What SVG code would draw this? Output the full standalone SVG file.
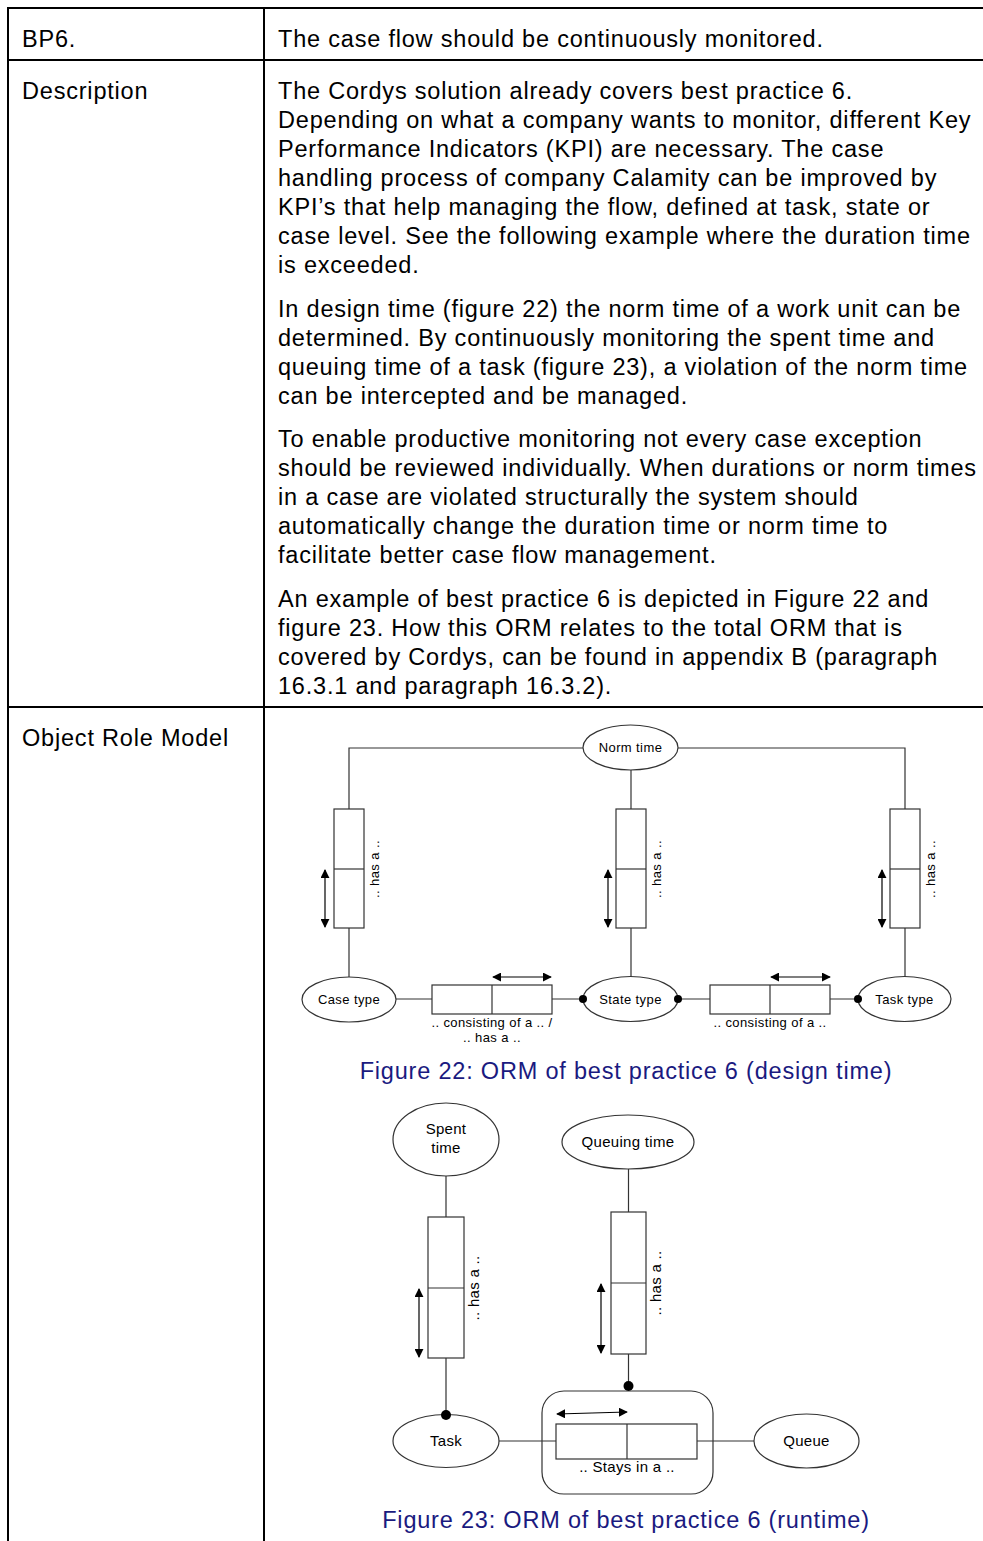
<svg xmlns="http://www.w3.org/2000/svg" width="983" height="1541" viewBox="0 0 983 1541">
<defs>
<marker id="ah" viewBox="0 0 10 10" refX="9" refY="5" markerWidth="9" markerHeight="9" markerUnits="userSpaceOnUse" orient="auto-start-reverse"><path d="M0,0 L10,5 L0,10 z" fill="#000"/></marker>
</defs>
<style>
.t{font-family:"Liberation Sans",Arial,sans-serif;font-size:23.5px;letter-spacing:0.8px;fill:#000}
.cap{font-family:"Liberation Sans",Arial,sans-serif;font-size:23.5px;letter-spacing:0.8px;fill:#1a1a80;text-anchor:middle}
.s{font-family:"Liberation Sans",Arial,sans-serif;font-size:13px;letter-spacing:0.4px;fill:#000;text-anchor:middle}
.m{font-family:"Liberation Sans",Arial,sans-serif;font-size:15px;letter-spacing:0.3px;fill:#000;text-anchor:middle}
.grid{stroke:#000;stroke-width:2;fill:none}
.ln{stroke:#333;stroke-width:1.2;fill:none}
.sh{stroke:#333;stroke-width:1.2;fill:#fff}
.ar{stroke:#000;stroke-width:1.2;fill:none;marker-start:url(#ah);marker-end:url(#ah)}
.dot{fill:#000}
</style>
<rect width="983" height="1541" fill="#fff"/>
<g id="table">
<path class="grid" d="M8,8 H983 M8,60 H983 M8,707 H983 M8,7 V1541 M264,7 V1541"/>
<text class="t" x="22" y="47">BP6.</text>
<text class="t" x="278" y="47">The case flow should be continuously monitored.</text>
<text class="t" x="22" y="99">Description</text>
<text class="t" x="278" y="99">The Cordys solution already covers best practice 6.</text>
<text class="t" x="278" y="128">Depending on what a company wants to monitor, different Key</text>
<text class="t" x="278" y="157">Performance Indicators (KPI) are necessary. The case</text>
<text class="t" x="278" y="186">handling process of company Calamity can be improved by</text>
<text class="t" x="278" y="215">KPI’s that help managing the flow, defined at task, state or</text>
<text class="t" x="278" y="244">case level. See the following example where the duration time</text>
<text class="t" x="278" y="273">is exceeded.</text>
<text class="t" x="278" y="317">In design time (figure 22) the norm time of a work unit can be</text>
<text class="t" x="278" y="346">determined. By continuously monitoring the spent time and</text>
<text class="t" x="278" y="375">queuing time of a task (figure 23), a violation of the norm time</text>
<text class="t" x="278" y="404">can be intercepted and be managed.</text>
<text class="t" x="278" y="447">To enable productive monitoring not every case exception</text>
<text class="t" x="278" y="476">should be reviewed individually. When durations or norm times</text>
<text class="t" x="278" y="505">in a case are violated structurally the system should</text>
<text class="t" x="278" y="534">automatically change the duration time or norm time to</text>
<text class="t" x="278" y="563">facilitate better case flow management.</text>
<text class="t" x="278" y="607">An example of best practice 6 is depicted in Figure 22 and</text>
<text class="t" x="278" y="636">figure 23. How this ORM relates to the total ORM that is</text>
<text class="t" x="278" y="665">covered by Cordys, can be found in appendix B (paragraph</text>
<text class="t" x="278" y="694">16.3.1 and paragraph 16.3.2).</text>
<text class="t" x="22" y="746">Object Role Model</text>
</g>
<g id="norm-time"><ellipse class="sh" cx="630.5" cy="747.5" rx="47.5" ry="22.5"/><text class="s" x="630.5" y="752">Norm time</text></g>
<g id="case-type"><ellipse class="sh" cx="349" cy="999.5" rx="47" ry="22.5"/><text class="s" x="349" y="1004">Case type</text></g>
<g id="state-type"><ellipse class="sh" cx="630.5" cy="999" rx="47.5" ry="22.5"/><text class="s" x="630.5" y="1003.5">State type</text></g>
<g id="task-type"><ellipse class="sh" cx="904.5" cy="999" rx="46.5" ry="22.5"/><text class="s" x="904.5" y="1003.5">Task type</text></g>
<g id="fact-case-norm"><rect class="sh" x="334" y="809" width="30" height="119"/><line class="ln" x1="334" y1="869" x2="364" y2="869"/><text class="s" transform="translate(379,869) rotate(-90)">.. has a ..</text></g>
<g id="fact-state-norm"><rect class="sh" x="616" y="809" width="30" height="119"/><line class="ln" x1="616" y1="869" x2="646" y2="869"/><text class="s" transform="translate(661,869) rotate(-90)">.. has a ..</text></g>
<g id="fact-task-norm"><rect class="sh" x="890" y="809" width="30" height="119"/><line class="ln" x1="890" y1="869" x2="920" y2="869"/><text class="s" transform="translate(935,869) rotate(-90)">.. has a ..</text></g>
<g id="fact-case-state"><rect class="sh" x="432" y="985" width="120" height="29"/><line class="ln" x1="492" y1="985" x2="492" y2="1014"/><text class="s" x="492" y="1027">.. consisting of  a .. /</text><text class="s" x="492" y="1042">.. has a ..</text></g>
<g id="fact-state-task"><rect class="sh" x="710" y="985" width="120" height="29"/><line class="ln" x1="770" y1="985" x2="770" y2="1014"/><text class="s" x="770" y="1027">.. consisting of a ..</text></g>
<text class="cap" x="626" y="1079">Figure 22: ORM of best practice 6 (design time)</text>
<g id="spent-time"><ellipse class="sh" cx="446" cy="1139.5" rx="53" ry="36.5"/><text class="m" x="446" y="1134">Spent</text><text class="m" x="446" y="1153">time</text></g>
<g id="queuing-time"><ellipse class="sh" cx="628" cy="1142" rx="66" ry="27"/><text class="m" x="628" y="1147">Queuing time</text></g>
<g id="fact-task-spent"><rect class="sh" x="428" y="1217" width="36" height="141"/><line class="ln" x1="428" y1="1288" x2="464" y2="1288"/><text class="m" transform="translate(479,1288) rotate(-90)">.. has a ..</text></g>
<g id="fact-stay-queuing"><rect class="sh" x="611" y="1212" width="35" height="142"/><line class="ln" x1="611" y1="1283" x2="646" y2="1283"/><text class="m" transform="translate(661,1283) rotate(-90)">.. has a ..</text></g>
<g id="task"><ellipse class="sh" cx="446" cy="1441" rx="53" ry="26.5"/><text class="m" x="446" y="1446">Task</text></g>
<g id="queue"><ellipse class="sh" cx="806.5" cy="1441" rx="52.5" ry="27"/><text class="m" x="806.5" y="1446">Queue</text></g>
<g id="stays-in"><rect class="ln" x="542" y="1391" width="171" height="103" rx="22"/><rect class="sh" x="556" y="1424" width="141" height="35"/><line class="ln" x1="627" y1="1424" x2="627" y2="1459"/><text class="m" x="627" y="1472">.. Stays in a ..</text></g>
<text class="cap" x="626" y="1528">Figure 23: ORM of best practice 6 (runtime)</text>
<g id="connectors">
<path class="ln" d="M349,809 V748 H583 M678,748 H905 V809"/>
<path class="ln" d="M631,770 V809"/>
<path class="ln" d="M349,928 V977 M631,928 V977 M905,928 V977"/>
<path class="ln" d="M396,999 H432 M552,999 H583 M678,999 H710 M830,999 H858"/>
<path class="ln" d="M446,1176 V1217 M446,1358 V1415 M628.5,1169 V1212 M628.5,1354 V1387"/>
<path class="ln" d="M499,1441 H556 M697,1441 H754"/>
<circle class="dot" cx="583" cy="999" r="4"/>
<circle class="dot" cx="678" cy="999" r="4"/>
<circle class="dot" cx="858" cy="999" r="4"/>
<circle class="dot" cx="446" cy="1415" r="5"/>
<circle class="dot" cx="628.5" cy="1386" r="5"/>
<line class="ar" x1="325" y1="870" x2="325" y2="927"/>
<line class="ar" x1="608" y1="870" x2="608" y2="927"/>
<line class="ar" x1="882" y1="870" x2="882" y2="927"/>
<line class="ar" x1="493" y1="977" x2="551" y2="977"/>
<line class="ar" x1="771" y1="977" x2="830" y2="977"/>
<line class="ar" x1="419" y1="1289" x2="419" y2="1357"/>
<line class="ar" x1="601" y1="1284" x2="601" y2="1353"/>
<line class="ar" x1="557" y1="1414" x2="627" y2="1412"/>
</g>
</svg>
